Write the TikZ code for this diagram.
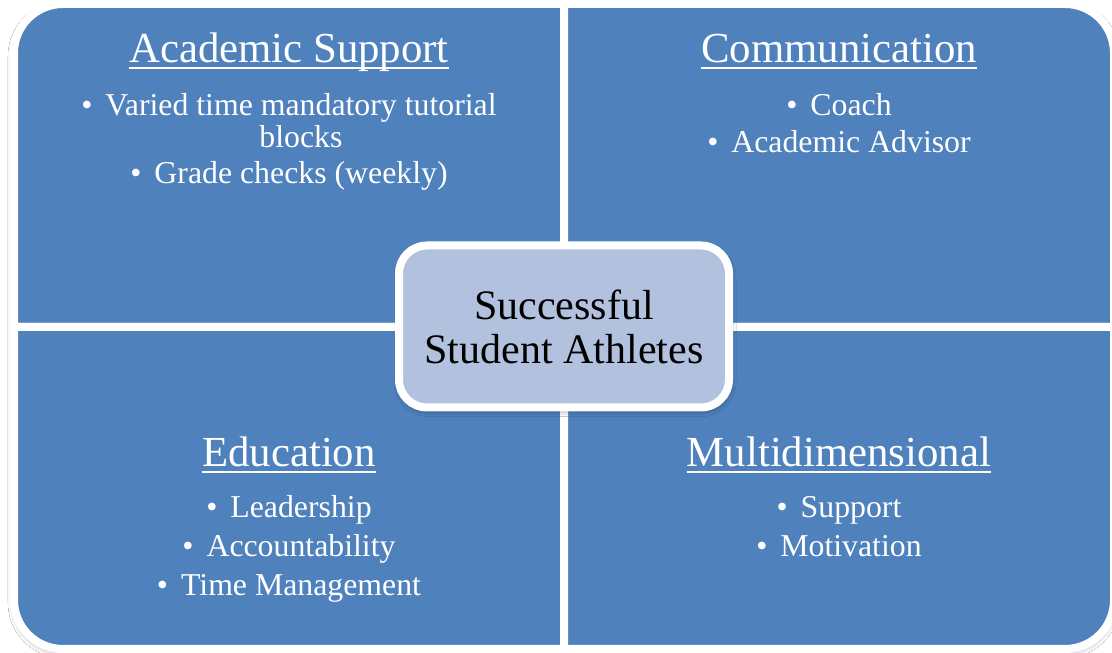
\documentclass[tikz,border=0pt]{standalone}
\usepackage{fontspec}
\setmainfont{Liberation Serif}
\usetikzlibrary{shadows.blur}
\definecolor{quadblue}{RGB}{79,129,189}
\definecolor{hubblue}{RGB}{178,193,221}
\begin{document}
\begin{tikzpicture}[x=1pt,y=1pt, line join=round,
	quad/.style={fill=quadblue, draw=white, line width=8pt},
	qtitle/.style={text=white, font=\fontsize{42.8}{48}\selectfont, anchor=base, inner sep=0pt},
	qitem/.style={text=white, font=\fontsize{31.8}{36}\selectfont, anchor=base, inner sep=0pt},
	uline/.style={white, line width=2pt},
	hub/.style={fill=hubblue, draw=white, line width=8pt, rounded corners=28pt, minimum width=330pt, minimum height=162pt, align=center, font=\fontsize{42}{44}\selectfont, blur shadow={shadow xshift=1pt, shadow yshift=-3pt, shadow blur radius=6pt, shadow opacity=45}}]
			\def\xl{289} \def\xr{839}
			\useasboundingbox[fill=white] (0,0) rectangle (1112,653);
			\path[fill=white, rounded corners=49pt, blur shadow={shadow xshift=0pt, shadow yshift=-3pt, shadow blur radius=6pt, shadow opacity=35}] (14,4) rectangle (1114,649);
			\draw[quad] (564,326) -- (14,326) -- (14,600) arc[start angle=180, end angle=90, radius=49] -- (564,649) -- cycle;
			\draw[quad] (564,326) -- (564,649) -- (1065,649) arc[start angle=90, end angle=0, radius=49] -- (1114,326) -- cycle;
			\draw[quad] (564,326) -- (14,326) -- (14,53) arc[start angle=180, end angle=270, radius=49] -- (564,4) -- cycle;
			\draw[quad] (564,326) -- (1114,326) -- (1114,53) arc[start angle=0, end angle=-90, radius=49] -- (564,4) -- cycle;
			\node[qtitle] (acad) at (\xl,590) {Academic Support};
			\node[qitem] (acad1) at (\xl,537) {\textbullet\hspace{13pt}Varied time mandatory tutorial};
			\node[qitem] (acad1b) at (\xl+12,505) {blocks};
			\node[qitem] (acad2) at (\xl,469) {\textbullet\hspace{13pt}Grade checks (weekly)};
			\node[qtitle] (comm) at (\xr,590) {Communication};
			\node[qitem] (comm1) at (\xr,537) {\textbullet\hspace{13pt}Coach};
			\node[qitem] (comm2) at (\xr,500) {\textbullet\hspace{13pt}Academic Advisor};
			\node[qtitle] (edu) at (\xl,186) {Education};
			\node[qitem] (edu1) at (\xl,135) {\textbullet\hspace{13pt}Leadership};
			\node[qitem] (edu2) at (\xl,96) {\textbullet\hspace{13pt}Accountability};
			\node[qitem] (edu3) at (\xl,57) {\textbullet\hspace{13pt}Time Management};
			\node[qtitle] (multi) at (\xr,186) {Multidimensional};
			\node[qitem] (multi1) at (\xr,135) {\textbullet\hspace{13pt}Support};
			\node[qitem] (multi2) at (\xr,96) {\textbullet\hspace{13pt}Motivation};
			\foreach \n in {acad,comm,edu,multi}
				\draw[uline] ([yshift=-5pt]\n.base west) -- ([yshift=-5pt]\n.base east);
			\node[hub] (hub) at (564,326.5) {Successful\\Student Athletes};
\end{tikzpicture}
\end{document}
